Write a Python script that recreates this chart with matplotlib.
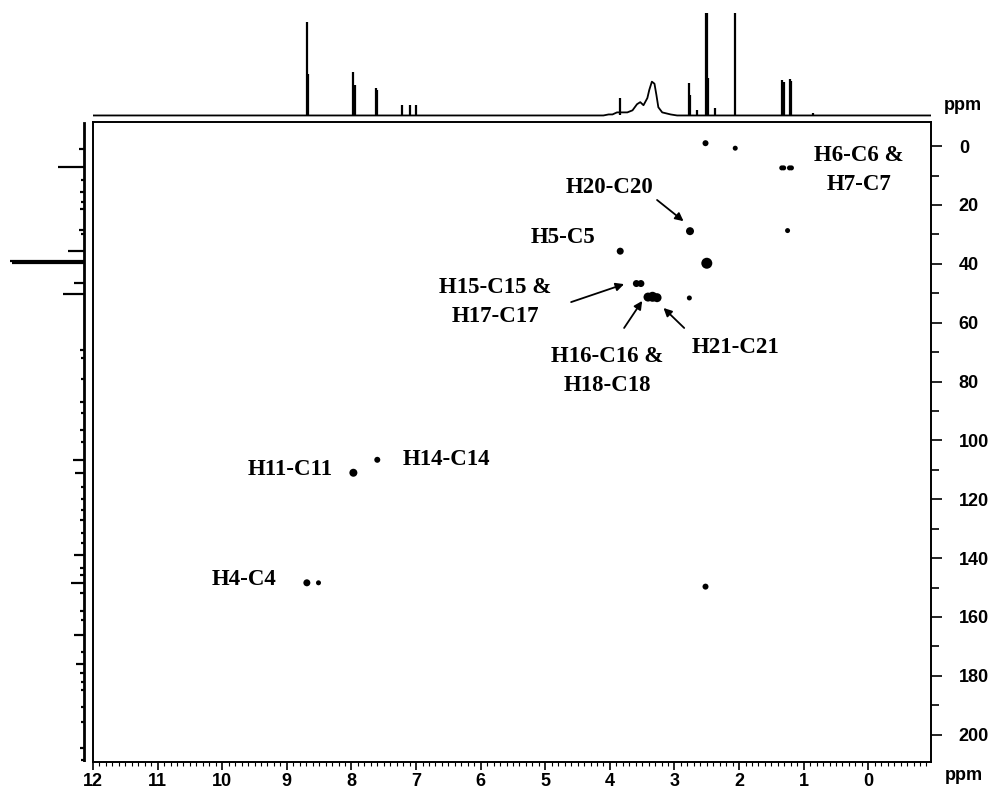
import matplotlib

matplotlib.use("Agg")
import matplotlib.pyplot as plt  # noqa: E402

# ---- 1H projection (top): sharp peaks as sticks + broad multiplet envelope ----
h_peak_ppm = [8.69, 8.68, 7.97, 7.95, 7.62, 7.61, 7.21, 7.10, 7.00, 3.85, 2.78, 2.76,
              2.65, 2.52, 2.50, 2.48, 2.37, 2.07, 1.33, 1.31, 1.22, 1.20, 0.85]
h_peak_height = [91, 40, 42, 30, 27, 25, 10, 10, 10, 17, 32, 20,
                 5, 100, 100, 37, 7, 100, 35, 33, 36, 34, 2]
h_hump_ppm = [12.0, 4.10, 4.02, 3.96, 3.89, 3.81, 3.73, 3.65, 3.58, 3.53, 3.48, 3.42,
              3.39, 3.35, 3.31, 3.28, 3.25, 3.19, 3.06, 2.96, -1.0]
h_hump_height = [0, 0, 1, 1, 3, 3, 3, 5, 11, 13, 10, 17,
                 25, 33, 31, 20, 8, 3, 1, 0, 0]

# ---- 13C projection (left) ----
c_peak_ppm = [1.0, 7.2, 11.5, 15.6, 19.0, 21.4, 28.5, 30.0, 35.7, 39.1, 39.8, 46.5,
              50.2, 69.3, 72.0, 79.0, 87.0, 90.7, 96.4, 100.5, 106.6, 111.0, 115.8,
              120.0, 123.6, 127.0, 131.4, 134.8, 139.0, 143.3, 145.7, 148.4, 151.8,
              158.0, 161.0, 166.0, 172.0, 176.0, 179.0, 182.0, 184.7, 190.5, 195.6,
              204.4, 208.5]
c_peak_height = [6, 32, 3, 4, 3, 4, 6, 3, 19.5, 92, 90, 12,
                 26, 5, 3, 3, 4, 3, 4, 3, 13, 11, 3,
                 3, 3, 4, 3, 3, 12, 4, 5, 16, 4,
                 4, 3, 12, 3, 9, 4, 3, 3, 3, 3,
                 4, 3]

# ---- HSQC cross peaks (1H ppm, 13C ppm, spot diameter in px) ----
spot_h = [2.52, 2.06, 1.34, 1.31, 1.22, 1.19, 2.76, 1.25, 2.50, 3.84,
          3.59, 3.52, 3.41, 3.34, 3.27, 2.77, 7.97, 7.60, 8.69, 8.51, 2.52]
spot_c = [-1.0, 0.7, 7.4, 7.4, 7.4, 7.4, 28.9, 28.7, 39.8, 35.7,
          46.7, 46.7, 51.3, 51.2, 51.5, 51.6, 111.0, 106.6, 148.4, 148.4, 149.7]
spot_d = [6, 5, 5, 5, 5, 5, 8, 5, 11, 7,
          7, 7, 9, 10, 9, 5, 8, 6, 7, 5, 6]

# ---- assignments: text, label position (1H, 13C) ----
labels = ["H6-C6 &\nH7-C7", "H20-C20", "H5-C5", "H15-C15 &\nH17-C17",
          "H16-C16 &\nH18-C18", "H21-C21", "H11-C11", "H14-C14", "H4-C4"]
label_h = [0.15, 4.00, 4.72, 5.77, 4.04, 2.06, 8.95, 6.53, 9.66]
label_c = [8.1, 13.9, 30.9, 53.0, 76.4, 68.6, 110.0, 106.6, 147.4]

# arrows: tail (1H, 13C) -> head (1H, 13C)
arrow_tail = [(3.27, 18.3), (4.60, 53.0), (3.78, 61.8), (2.85, 61.8)]
arrow_head = [(2.86, 25.5), (3.78, 46.9), (3.50, 52.6), (3.17, 55.0)]

XLIM = (12.0, -0.97)
YLIM = (209.3, -8.2)
tick_font = {"family": ["Liberation Sans Narrow", "Liberation Sans"],
             "weight": "bold", "size": 13}

fig = plt.figure(figsize=(9.88, 8.0), dpi=100)
W, H = 988.0, 800.0


def px_axes(x0, y0, x1, y1):
    return fig.add_axes([x0 / W, 1 - y1 / H, (x1 - x0) / W, (y1 - y0) / H])


# main 2D panel
ax = px_axes(93, 122, 931, 762)
ax.set_xlim(*XLIM)
ax.set_ylim(*YLIM)
for s in ax.spines.values():
    s.set_linewidth(1.4)
ax.scatter(spot_h, spot_c, s=[(0.72 * d) ** 2 for d in spot_d], c="black",
           edgecolors="none", zorder=3)

for txt, x, y in zip(labels, label_h, label_c):
    ax.text(x, y, txt, ha="center", va="center", fontsize=16.5, fontweight="bold",
            family="Liberation Serif", linespacing=1.45)
for (x0, y0), (x1, y1) in zip(arrow_tail, arrow_head):
    ax.annotate("", xy=(x1, y1), xytext=(x0, y0),
                arrowprops=dict(arrowstyle="-|>", color="black", lw=1.3,
                                mutation_scale=12, shrinkA=0, shrinkB=0))

ax.set_xticks(range(12, -1, -1))
ax.set_xticks([i / 10 for i in range(-9, 121)], minor=True)
ax.set_yticks(range(0, 201, 20))
ax.set_yticks(range(10, 201, 20), minor=True)
ax.yaxis.tick_right()
ax.tick_params(axis="x", which="major", direction="out", length=6, width=1.2, pad=2)
ax.tick_params(axis="x", which="minor", direction="out", length=3, width=0.8)
ax.tick_params(axis="y", which="major", direction="out", length=8, width=1.2, pad=12)
ax.tick_params(axis="y", which="minor", direction="out", length=6, width=1.2)
for lab in ax.get_xticklabels() + ax.get_yticklabels():
    lab.set(**tick_font)
fig.text(964 / W, 1 - 776 / H, "ppm", ha="center", va="center", **tick_font)
fig.text(963 / W, 1 - 105 / H, "ppm", ha="center", va="center", **tick_font)

# top 1H projection
axt = px_axes(93, 12, 931, 117)
axt.set_xlim(*XLIM)
axt.set_ylim(-1.5, 101)
axt.plot(h_hump_ppm, h_hump_height, color="black", lw=1.3)
axt.vlines(h_peak_ppm, 0, h_peak_height, color="black", lw=1.6)
axt.axis("off")

# left 13C projection
axl = px_axes(2, 122, 86, 762)
axl.set_ylim(*YLIM)
axl.set_xlim(102, -3)
axl.plot([0, 0], [-8, 209], color="black", lw=2.0)
axl.hlines(c_peak_ppm, 0, c_peak_height, color="black", lw=1.6)
axl.axis("off")

fig.savefig("out.png", dpi=100)
